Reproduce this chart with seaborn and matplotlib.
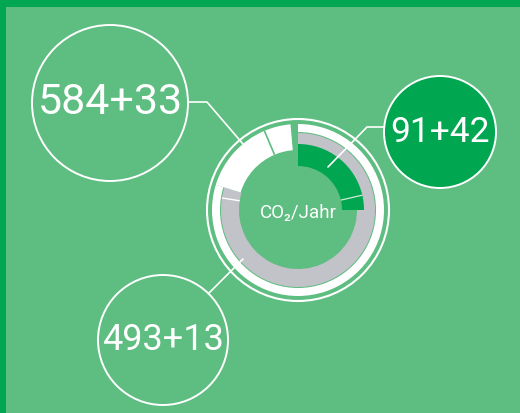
import numpy as np
import matplotlib
matplotlib.use("Agg")
import matplotlib.pyplot as plt
import seaborn as sns
from matplotlib.patches import Circle, Rectangle

# bubble labels
labels = ["584+33", "91+42", "493+13"]
# arc spans on the ring in degrees (clockwise from 12 o'clock)
green_span = [77, 13]   # 91 | 42
grey_span = [279, 8]    # 493 | 13
white_span = [50, 18]   # 584 | 33
center_label = "CO\u2082/Jahr"

W, H = 520, 414
CX, CY = 298, H - 211

BG = "#5ebd80"
FRAME = "#00a651"
GREEN = "#00a650"
GREY = "#c1c3c8"

sns.set_theme(style="white")
plt.rcParams["font.family"] = ["Roboto", "DejaVu Sans"]

fig = plt.figure(figsize=(5.2, 4.14), dpi=100)
fig.patch.set_facecolor(BG)
ax = fig.add_axes([0, 0, 1, 1])
ax.set_facecolor(BG)


def ring(values, colors, r_out, width, start):
    # one ring layer, clockwise from `start` degrees past 12 o'clock
    rest = 360 - sum(values)
    ax.pie(values + [rest], colors=colors + ["none"], radius=r_out,
           center=(CX, CY), startangle=90 - start, counterclock=False,
           wedgeprops=dict(width=width, linewidth=0), frame=True)


def spoke(angle, r0, r1, color, lw=1.0):
    t = np.deg2rad(90 - angle)
    ax.plot([CX + r0 * np.cos(t), CX + r1 * np.cos(t)],
            [CY + r0 * np.sin(t), CY + r1 * np.sin(t)],
            color=color, lw=lw, solid_capstyle="butt")


# frame strips
ax.add_patch(Rectangle((0, H - 8), W, 8, color=FRAME, lw=0))
ax.add_patch(Rectangle((0, 0), 6, H, color=FRAME, lw=0))

# outer thin ring
ax.add_patch(Circle((CX, CY), 91, fill=False, ec="white", lw=1.5))
# white band following the grey arc
ring([sum(grey_span)], ["white"], 86, 8, 0)
# grey ring
ring(grey_span, [GREY, GREY], 77, 18, 0)
# white arc top-left
ring(white_span, ["white", "white"], 86, 26, sum(grey_span))
# green arc
ring(green_span, [GREEN, GREEN], 66, 22, 0)

# separators
spoke(green_span[0], 44, 66, "#cfe9d6", 0.9)
spoke(grey_span[0], 59, 77, "white", 1.0)
spoke(sum(grey_span) + white_span[0], 60, 86, BG, 1.2)

ax.text(CX, CY - 2, center_label, color="white", fontsize=13.5,
        ha="center", va="center")

# bubbles
bubbles = [(110, 104, 78, "none", 31), (440, 133, 56, GREEN, 25.5),
           (163, 341, 65, "none", 26)]
for (bx, by, br, fc, fs), lab in zip(bubbles, labels):
    ax.add_patch(Circle((bx, H - by), br, fc=fc, ec="white", lw=1.4))
    ax.text(bx, H - by + 1, lab, color="white", fontsize=fs,
            ha="center", va="center")

# connectors
connectors = [
    [(188, 103), (207, 103), (243, 145)],
    [(384, 128), (367, 128), (328, 168)],
    [(209, 294), (243, 260)],
]
for pts in connectors:
    xs = [p[0] for p in pts]
    ys = [H - p[1] for p in pts]
    ax.plot(xs, ys, color="white", lw=1.2)

ax.set_xlim(0, W)
ax.set_ylim(0, H)
ax.set_aspect("equal")
ax.axis("off")
fig.savefig("out.png", dpi=100, facecolor=BG)
